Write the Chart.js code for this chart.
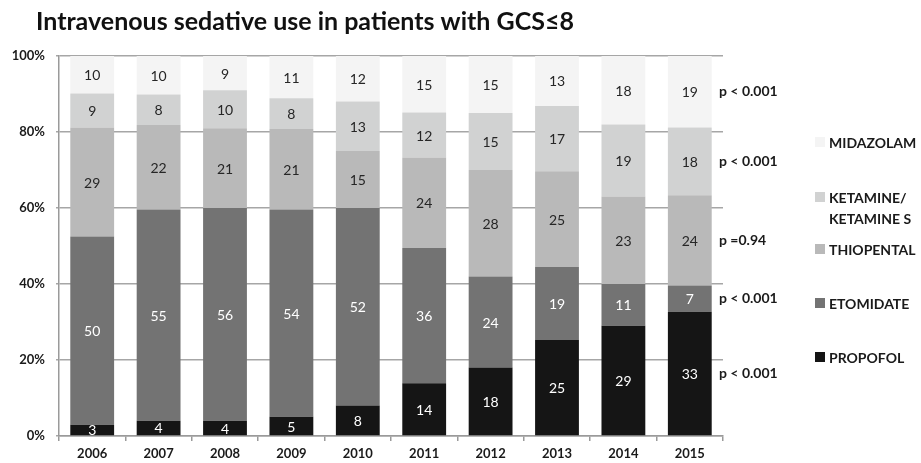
<!DOCTYPE html>
<html>
<head>
<meta charset="utf-8">
<script src="https://cdn.jsdelivr.net/npm/chart.js@4.4.0/dist/chart.umd.min.js"></script>
<style>
  html, body { margin: 0; padding: 0; background: #fff; }
  #wrap { width: 921px; height: 463px; position: relative; }
</style>
</head>
<body>
<div id="wrap"><canvas id="sedatives"></canvas></div>
<script>
const years = ['2006', '2007', '2008', '2009', '2010', '2011', '2012', '2013', '2014', '2015'];

// patient counts per year, stacked bottom to top
const propofol   = [3, 4, 4, 5, 8, 14, 18, 25, 29, 33];
const etomidate  = [50, 55, 56, 54, 52, 36, 24, 19, 11, 7];
const thiopental = [29, 22, 21, 21, 15, 24, 28, 25, 23, 24];
const ketamine   = [9, 8, 10, 8, 13, 12, 15, 17, 19, 18];
const midazolam  = [10, 10, 9, 11, 12, 15, 15, 13, 18, 19];

const drugLabels = ['PROPOFOL', 'ETOMIDATE', 'THIOPENTAL', 'KETAMINE/\nKETAMINE S', 'MIDAZOLAM'];
const pValues = ['p < 0.001', 'p < 0.001', 'p =0.94', 'p < 0.001', 'p < 0.001'];
const yTicks = [0, 20, 40, 60, 80, 100];

const series = [propofol, etomidate, thiopental, ketamine, midazolam];
const fills = ['#151515', '#737373', '#b9b9b9', '#d1d2d2', '#f4f4f4'];
const textColors = ['#ffffff', '#ffffff', '#262626', '#262626', '#262626'];

const totals = years.map((_, j) => series.reduce((s, arr) => s + arr[j], 0));
const FONT = 'Lato, "DejaVu Sans", sans-serif';

const datasets = series.map((arr, i) => ({
  label: drugLabels[i],
  counts: arr,
  data: arr.map((v, j) => v / totals[j] * 100),
  backgroundColor: fills[i],
  textColor: textColors[i],
  pValue: pValues[i],
  borderWidth: 0,
  categoryPercentage: 1,
  barPercentage: 0.66
}));

// legend rows, top to bottom (midazolam first)
const legendRows = [142, 197, 249, 303, 357];

// value labels, p-values beside the last bar, legend and title
const decorations = {
  id: 'decorations',
  afterDatasetsDraw(chart) {
    const ctx = chart.ctx;
    const area = chart.chartArea;
    const sets = chart.data.datasets;
    ctx.save();
    ctx.textBaseline = 'middle';

    sets.forEach((ds, i) => {
      const meta = chart.getDatasetMeta(i);
      ctx.font = '14px ' + FONT;
      ctx.textAlign = 'center';
      ctx.fillStyle = ds.textColor;
      meta.data.forEach((bar, j) => {
        ctx.fillText(String(ds.counts[j]), bar.x, (bar.y + bar.base) / 2 + 1);
      });
      const last = meta.data[meta.data.length - 1];
      ctx.font = 'bold 14px ' + FONT;
      ctx.textAlign = 'left';
      ctx.fillStyle = '#1a1a1a';
      ctx.fillText(ds.pValue, area.right - 4, (last.y + last.base) / 2);
    });

    sets.slice().reverse().forEach((ds, r) => {
      const y = legendRows[r];
      ctx.fillStyle = ds.backgroundColor;
      ctx.fillRect(815, y - 5, 10, 10);
      ctx.font = 'bold 14px ' + FONT;
      ctx.fillStyle = '#1a1a1a';
      ctx.textAlign = 'left';
      ds.label.split('\n').forEach((t, k) => ctx.fillText(t, 829, y + 1 + k * 21));
    });

    ctx.font = 'bold 25px ' + FONT;
    ctx.fillStyle = '#111';
    ctx.textAlign = 'left';
    ctx.fillText('Intravenous sedative use in patients with GCS≤8', 36, 22);
    ctx.restore();
  }
};

new Chart(document.getElementById('sedatives'), {
  type: 'bar',
  data: { labels: years, datasets },
  options: {
    responsive: true,
    maintainAspectRatio: false,
    animation: false,
    layout: { padding: { top: 56, right: 198, left: 0, bottom: 0 } },
    plugins: { legend: { display: false }, tooltip: { enabled: false } },
    scales: {
      x: {
        stacked: true,
        afterFit(scale) { scale.height = 27; },
        grid: { offset: true, drawOnChartArea: false, tickLength: 5, color: '#9a9a9a', lineWidth: 1.5 },
        border: { color: '#9a9a9a', width: 1.5 },
        ticks: { padding: 5, color: '#1a1a1a', font: { family: FONT, size: 13, weight: 'bold' } }
      },
      y: {
        stacked: true,
        min: 0,
        max: 100,
        afterFit(scale) { scale.width = 59; },
        afterBuildTicks(scale) { scale.ticks = yTicks.map(v => ({ value: v })); },
        grid: { color: '#a6a6a6', lineWidth: 1.5, tickLength: 3 },
        border: { color: '#9a9a9a', width: 1.5 },
        ticks: {
          padding: 11,
          color: '#1a1a1a',
          font: { family: FONT, size: 13, weight: 'bold' },
          callback: v => v + '%'
        }
      }
    }
  },
  plugins: [decorations]
});
</script>
</body>
</html>
